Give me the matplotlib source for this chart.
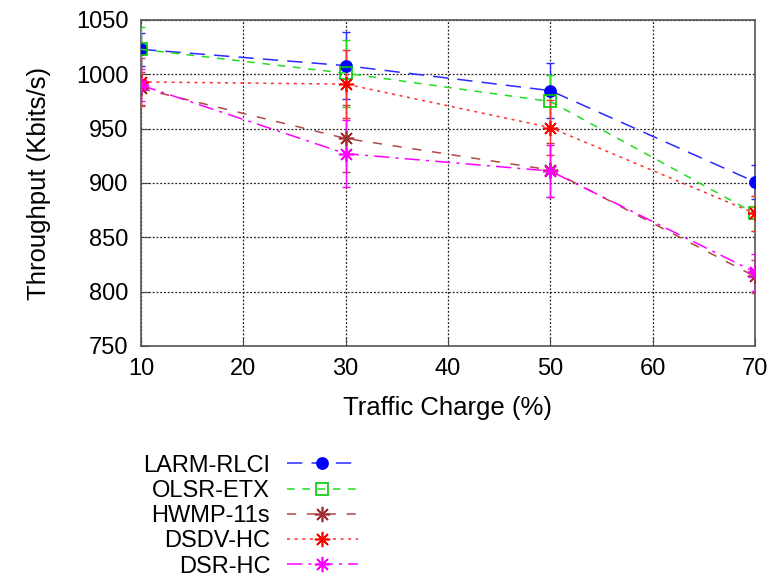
import numpy as np
import matplotlib
matplotlib.use("Agg")
import matplotlib.pyplot as plt

# traffic charge (%) on x
traffic = [10, 30, 50, 70]

# throughput means (Kbits/s)
larm_rlci = [1023, 1008, 985, 901]
olsr_etx = [1023, 1001, 975, 872]
hwmp_11s = [987, 941, 912, 814]
dsdv_hc = [993, 991, 951, 872]
dsr_hc = [990, 927, 911, 818]

# error bar half-widths
larm_err = [15, 31, 25, 16]
olsr_err = [21, 31, 24, 16]
hwmp_err = [15, 31, 25, 15]
dsdv_err = [22, 31, 25, 16]
dsr_err = [15, 31, 24, 17]

labels = ["LARM-RLCI", "OLSR-ETX", "HWMP-11s", "DSDV-HC", "DSR-HC"]

plt.rcParams["font.family"] = ["Liberation Sans", "DejaVu Sans"]

fig = plt.figure(figsize=(7.73, 5.81), dpi=100)
ax = fig.add_axes([0.1824, 0.4045, 0.7943, 0.5611])

star = (8, 2, 0)
styles = [
    dict(color="#2a2aff", marker="o", ms=8, mfc="#0000ff", mec="#0000ff", dashes=(10, 6)),
    dict(color="#22dd22", marker="s", ms=9, mfc="none", mec="#00cc00", dashes=(5, 5)),
    dict(color="#b04848", marker=star, ms=11, mfc="none", mec="#a03030", dashes=(6, 7)),
    dict(color="#ff3030", marker=star, ms=11, mfc="none", mec="#ff0000", dashes=(2, 3)),
    dict(color="#ff00ff", marker=star, ms=11, mfc="none", mec="#ff00ff", dashes=(10, 4, 2, 4)),
]
series = [larm_rlci, olsr_etx, hwmp_11s, dsdv_hc, dsr_hc]
errs = [larm_err, olsr_err, hwmp_err, dsdv_err, dsr_err]

handles = []
for y, e, st, lab in zip(series, errs, styles, labels):
    ax.errorbar(traffic, y, yerr=e, fmt="none", ecolor=st["color"],
                elinewidth=1.0, capsize=3, capthick=1.0, zorder=3)
    ln, = ax.plot(traffic, y, color=st["color"], lw=1.1, dashes=st["dashes"],
                  marker=st["marker"], ms=st["ms"], mfc=st["mfc"], mec=st["mec"],
                  mew=1.2, label=lab, zorder=4)
    handles.append(ln)

ax.set_xlim(10, 70)
ax.set_ylim(750, 1050)
ax.set_xticks(range(10, 71, 10))
ax.set_yticks(range(750, 1051, 50))
ax.grid(True, color="#222222", linestyle=(0, (1.5, 1.5)), linewidth=0.9)
ax.tick_params(direction="in", length=6, labelsize=17, pad=9, color="#444444",
               top=False, right=False)
for s in ax.spines.values():
    s.set_color("#555555")
    s.set_linewidth(1.2)

ax.set_xlabel("Traffic Charge (%)", fontsize=18.5, labelpad=11)
ax.set_ylabel("Throughput (Kbits/s)", fontsize=18.5, labelpad=18)

fig.legend(handles=handles, labels=labels, loc="upper left",
           bbox_to_anchor=(0.170, 0.238), frameon=False, fontsize=17,
           markerfirst=False, numpoints=1, handlelength=3.0,
           labelspacing=0.14, handletextpad=0.7, borderpad=0)

fig.savefig("out.png", dpi=100)
